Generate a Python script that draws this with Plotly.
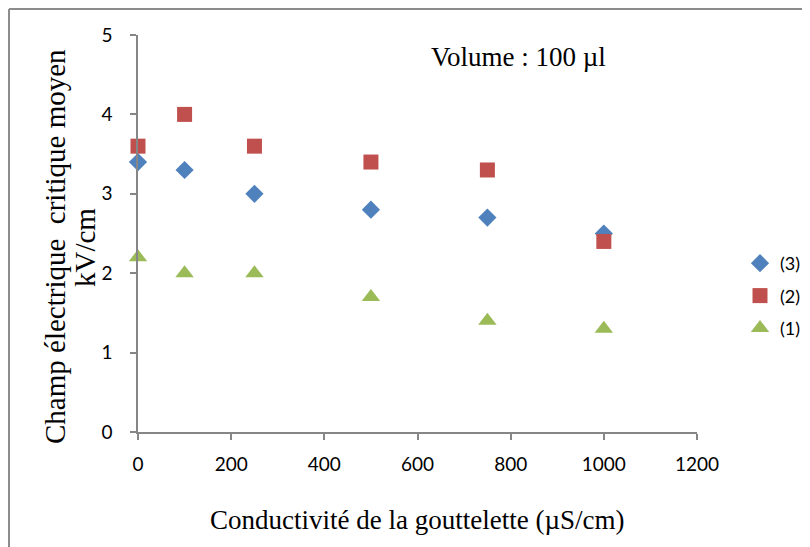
import plotly.graph_objects as go

x_vals = [0, 100, 250, 500, 750, 1000]
s3 = [3.4, 3.3, 3.0, 2.8, 2.7, 2.5]
s2 = [3.6, 4.0, 3.6, 3.4, 3.3, 2.4]
s1 = [2.2, 2.0, 2.0, 1.7, 1.4, 1.3]
names = ["(3)", "(2)", "(1)"]
x_ticks = [0, 200, 400, 600, 800, 1000, 1200]
y_ticks = [0, 1, 2, 3, 4, 5]
y_title_lines = ["Champ électrique  critique moyen", "kV/cm"]

# page body has an 8px margin, so the figure is drawn 8px right/down
OFF = 8
W, H = 810 - OFF, 547 - OFF
L, T = 138 - OFF, 35 - OFF
R = W - (697 - OFF)
B = H - (432 - OFF)
pw, ph = W - L - R, H - T - B

def px(xp):
    return (xp - OFF - L) / pw

def py(yp):
    return (H - B - (yp - OFF)) / ph

fig = go.Figure()
fig.add_trace(go.Scatter(x=x_vals, y=s3, mode="markers", name=names[0], cliponaxis=False, legendgroup="a",
                         marker=dict(symbol="diamond", size=14, color="#4F81BD")))
fig.add_trace(go.Scatter(x=x_vals, y=s2, mode="markers", name=names[1], cliponaxis=False, legendgroup="b",
                         marker=dict(symbol="square", size=15, color="#C0504D")))
fig.add_trace(go.Scatter(x=x_vals, y=s1, mode="markers", name=names[2], cliponaxis=False, legendgroup="c",
                         marker=dict(symbol="triangle-up", size=16, color="#9BBB59")))

axis_common = dict(showgrid=False, zeroline=False, showline=True, linecolor="#868686", linewidth=1.5,
                   ticks="outside", ticklen=6, tickcolor="#868686", tickwidth=1.5,
                   tickfont=dict(family="Lato", size=19, color="#000000"))

fig.update_xaxes(range=[0, 1200], tickvals=x_ticks, ticklabelstandoff=8, automargin=False, **axis_common)
fig.update_yaxes(range=[0, 5], tickvals=y_ticks, ticklabelstandoff=14, automargin=False, **axis_common)

serif = "Liberation Serif, Times New Roman, serif"
fig.update_layout(
    width=W, height=H,
    margin=dict(l=L, r=R, t=T, b=B, autoexpand=False),
    paper_bgcolor="white", plot_bgcolor="white",
    showlegend=True,
    legend=dict(x=px(740), y=py(296), xanchor="left", yanchor="middle",
                font=dict(family="Lato", size=18, color="#000000"),
                itemwidth=30, tracegroupgap=6, bgcolor="rgba(0,0,0,0)"),
    annotations=[
        dict(text="Volume : 100 µl", x=px(518), y=py(57), xref="paper", yref="paper",
             xanchor="center", yanchor="middle",
             showarrow=False, font=dict(family=serif, size=27, color="#000000")),
        dict(text="Conductivité de la gouttelette (µS/cm)", x=px(417), y=py(520), xref="paper", yref="paper",
             xanchor="center", yanchor="middle",
             showarrow=False, font=dict(family=serif, size=27, color="#000000")),
        dict(text=y_title_lines[0], x=px(55), y=py(247), xref="paper", yref="paper",
             xanchor="center", yanchor="middle",
             showarrow=False, textangle=-90, font=dict(family=serif, size=29, color="#000000")),
        dict(text=y_title_lines[1], x=px(85), y=py(248), xref="paper", yref="paper",
             xanchor="center", yanchor="middle",
             showarrow=False, textangle=-90, font=dict(family=serif, size=29, color="#000000")),
    ],
    shapes=[
        dict(type="line", xref="paper", yref="paper", x0=px(9), x1=px(9), y0=py(600), y1=py(9),
             line=dict(color="#8c8c8c", width=2)),
        dict(type="line", xref="paper", yref="paper", x0=px(9), x1=px(900), y0=py(9), y1=py(9),
             line=dict(color="#8c8c8c", width=2)),
    ],
)

fig.write_html("out.html")
